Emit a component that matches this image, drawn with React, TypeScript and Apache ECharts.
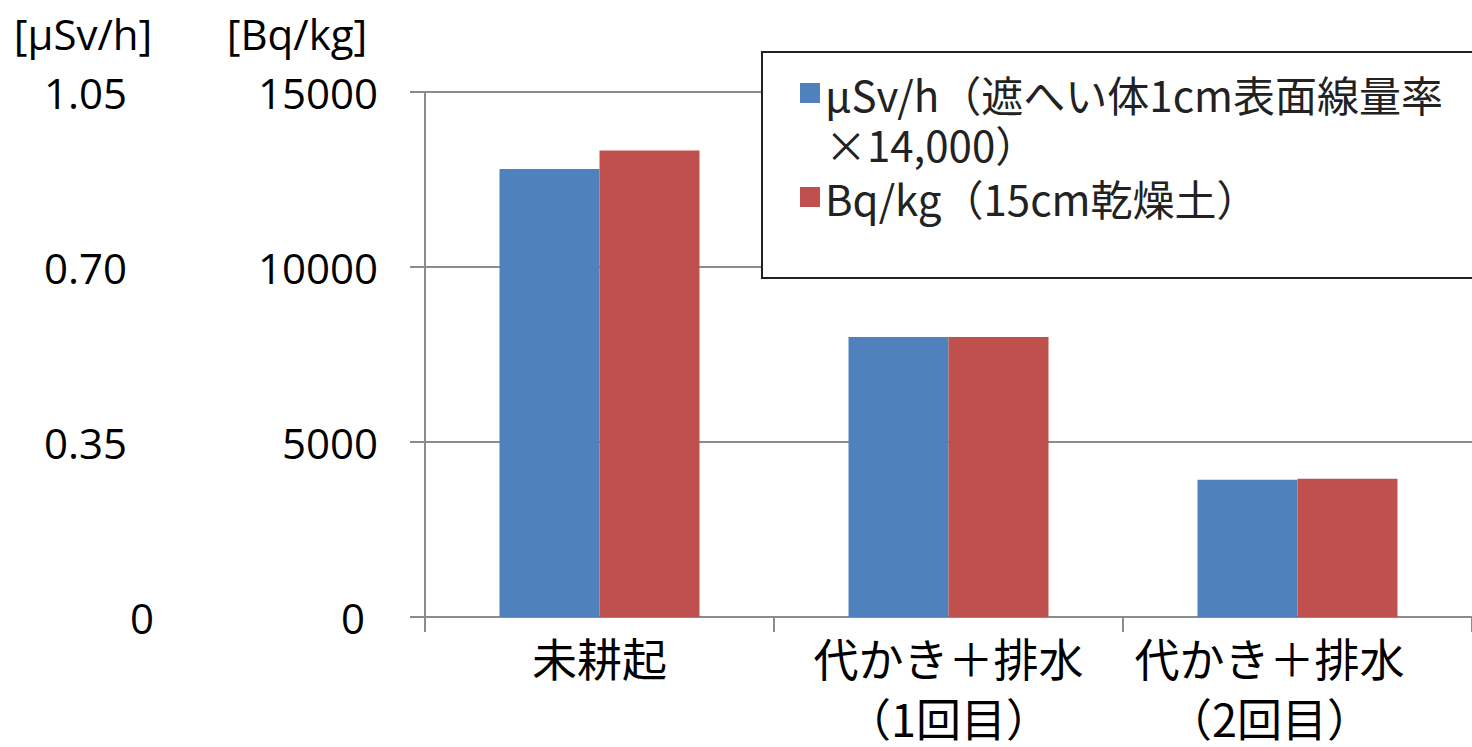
import React, { useEffect, useRef } from "react";
import * as echarts from "echarts";

const categories = ["未耕起", "代かき＋排水\n（1回目）", "代かき＋排水\n（2回目）"];
const doseSeriesName = "μSv/h（遮へい体1cm表面線量率\n×14,000）";
const soilSeriesName = "Bq/kg（15cm乾燥土）";
const doseValues = [12800, 8000, 3920];
const soilValues = [13330, 8000, 3950];
const bqMax = 15000;
const bqInterval = 5000;
const svMax = 1.05;
const svInterval = 0.35;

const NUM_FONT = "'Open Sans', 'Noto Sans', sans-serif";
const JP_FONT = "'Noto Sans CJK JP', 'Noto Sans', sans-serif";

const numText = { fontFamily: NUM_FONT, fontSize: 42, color: "#000000" };

export default function App() {
  const ref = useRef<HTMLDivElement>(null);
  useEffect(() => {
    if (!ref.current) return;
    const chart = echarts.init(ref.current, undefined, { renderer: "svg" });
    chart.setOption({
      animation: false,
      backgroundColor: "#ffffff",
      grid: { left: 425, top: 92, height: 526, width: 1050, containLabel: false },
      legend: {
        orient: "vertical",
        left: 762,
        top: 52,
        padding: [16, 60, 46, 38],
        itemGap: -6,
        itemWidth: 20,
        itemHeight: 70,
        borderColor: "#222222",
        borderWidth: 2,
        backgroundColor: "#ffffff",
        textStyle: { fontFamily: JP_FONT, fontSize: 42, lineHeight: 50, color: "#222222" },
        data: [
          {
            name: doseSeriesName,
            icon: "path://M0,0h20v20h-20ZM0,69.99h0.01v0.01h-0.01Z",
          },
          {
            name: soilSeriesName,
            icon: "path://M0,0h0.01v0.01h-0.01ZM0,25h20v20h-20ZM0,69.99h0.01v0.01h-0.01Z",
          },
        ],
      },
      xAxis: {
        type: "category",
        data: categories.map((c, i) =>
          i === 2 ? { value: c, textStyle: { padding: [0, 56, 0, 0] } } : c
        ),
        axisLine: { lineStyle: { color: "#8c8c8c", width: 2 } },
        axisTick: { show: true, length: 15, lineStyle: { color: "#8c8c8c", width: 2 } },
        axisLabel: {
          interval: 0,
          margin: 10,
          fontFamily: JP_FONT,
          fontSize: 45,
          lineHeight: 60,
          color: "#000000",
        },
      },
      yAxis: [
        {
          type: "value",
          min: 0,
          max: bqMax,
          interval: bqInterval,
          position: "left",
          name: "[Bq/kg]",
          nameLocation: "end",
          nameGap: 38,
          nameTextStyle: { ...numText, padding: [0, 256, 0, 0] },
          axisLine: { show: true, lineStyle: { color: "#8c8c8c", width: 2 } },
          axisTick: { show: true, length: 15, lineStyle: { color: "#8c8c8c", width: 2 } },
          splitLine: { show: true, lineStyle: { color: "#8c8c8c", width: 2 } },
          axisLabel: {
            margin: 47,
            ...numText,
            formatter: (v: number) => (v === 0 ? "{z|0}" : "{n|" + String(v) + "}"),
            rich: {
              n: { ...numText },
              z: { ...numText, padding: [0, 13, 0, 0] },
            },
          },
        },
        {
          type: "value",
          min: 0,
          max: svMax,
          interval: svInterval,
          position: "left",
          offset: 295,
          name: "[μSv/h]",
          nameLocation: "end",
          nameGap: 38,
          nameTextStyle: { ...numText, padding: [0, 94, 0, 0] },
          axisLine: { show: false },
          axisTick: { show: false },
          splitLine: { show: false },
          axisLabel: {
            margin: 86,
            align: "left",
            ...numText,
            formatter: (v: number) => (v === 0 ? "{z|0}" : "{n|" + v.toFixed(2) + "}"),
            rich: {
              n: { ...numText },
              z: { ...numText, padding: [0, 0, 0, 86] },
            },
          },
        },
      ],
      series: [
        {
          name: doseSeriesName,
          type: "bar",
          yAxisIndex: 0,
          barWidth: 100,
          barGap: "0%",
          itemStyle: { color: "#4F81BD" },
          data: doseValues,
        },
        {
          name: soilSeriesName,
          type: "bar",
          yAxisIndex: 0,
          barWidth: 100,
          barGap: "0%",
          itemStyle: { color: "#C0504D" },
          data: soilValues,
        },
      ],
    });
    return () => chart.dispose();
  }, []);
  return (
    <div
      ref={ref}
      style={{ position: "fixed", left: 0, top: 0, width: 1472, height: 747 }}
    />
  );
}
